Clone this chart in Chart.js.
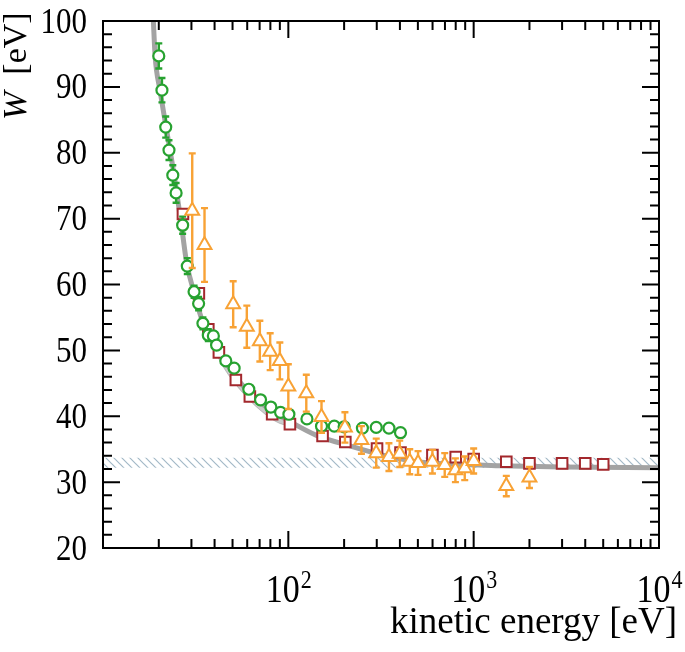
<!DOCTYPE html>
<html>
<head>
<meta charset="utf-8">
<script src="https://cdn.jsdelivr.net/npm/chart.js@4.4.0/dist/chart.umd.min.js"></script>
<style>
  body { margin: 0; background: #fff; }
  #wChart { display: block; }
</style>
</head>
<body>
<canvas id="wChart" width="685" height="652"></canvas>
<script>
// W value [eV] vs kinetic energy [eV]

// green circles
const greenE = [20, 20.8, 21.8, 22.7, 23.8, 24.8, 26.9, 28.5, 31, 32.8, 34.6, 37, 39.4, 41, 46, 51, 61.2, 70.8, 80.5, 90.8, 100.7, 126, 151, 177, 200, 251, 298, 349, 403];
const greenW = [94.7, 89.5, 83.9, 80.4, 76.6, 73.9, 69.0, 62.8, 58.9, 57.1, 54.1, 52.3, 52.2, 50.8, 48.4, 47.3, 44.1, 42.5, 41.4, 40.6, 40.3, 39.6, 38.5, 38.5, 38.4, 38.2, 38.3, 38.2, 37.5];
const greenErr = [1.9, 1.85, 1.6, 1.5, 1.5, 1.5, 1.3, 1.2, 0.9, 1.0, 0.9, 0.9, 0.6, 0, 0, 0, 0, 0, 0, 0, 0, 0, 0, 0, 0, 0, 0, 0, 0];

// dark red squares
const redE = [27, 32.9, 37, 42.2, 52.1, 62, 81.8, 102, 153, 203, 301, 403, 599, 800, 1000, 1500, 2000, 3000, 4000, 5000];
const redW = [70.7, 58.65, 53.2, 49.7, 45.5, 43.0, 40.3, 38.8, 37.0, 36.1, 35.1, 34.5, 34.1, 33.8, 33.5, 33.1, 32.85, 32.85, 32.85, 32.7];

// orange triangles
const orangeE = [30.3, 35.3, 50.4, 59.7, 70.2, 79.8, 90, 100, 125, 151, 202, 248, 298, 349, 399, 452, 501, 599, 698, 797, 895, 1000, 1500, 2000];
const orangeW = [71.2, 66.0, 57.0, 53.6, 51.4, 49.8, 48.4, 44.5, 43.5, 39.9, 38.3, 36.4, 34.4, 33.8, 34.3, 33.1, 32.9, 33.1, 32.6, 31.8, 32.1, 33.2, 29.4, 30.7];
const orangeErr = [8.7, 5.6, 3.5, 3.2, 3.1, 2.8, 2.8, 3.4, 2.8, 2.4, 2.3, 2.1, 2.2, 2.1, 2.0, 1.9, 1.8, 1.8, 1.8, 1.8, 1.8, 1.9, 1.55, 1.6];

// gray model curve
const curveE = [18.7, 19.1, 20.3, 21.9, 24.2, 26.5, 28.3, 30.7, 34.7, 41, 50.4, 62, 76, 102, 142, 215, 324, 491, 743, 1380, 3000, 10000];
const curveW = [100, 94.7, 89.5, 83.9, 76.6, 69, 63.2, 59.2, 54.1, 50.5, 46.5, 43.5, 41.4, 39.2, 37.1, 35.5, 34.1, 33.1, 32.75, 32.5, 32.3, 32.2];
// lower edge of the darker gray scatter under the curve
const shadeE = [35, 45, 55, 70, 90, 105];
const shadeW = [53.3, 47.3, 44.0, 41.0, 38.9, 38.6];

// hatched band (high-energy limit)
const bandE = [10, 10000];
const bandHi = [33.7, 33.7];
const bandLo = [32.2, 32.2];

// axes
const xMajorTicks = [10, 100, 1000, 10000];
const xTickExps = ['', '2', '3', '4'];
const yMajorTicks = [20, 30, 40, 50, 60, 70, 80, 90, 100];

const SERIF = '"Liberation Serif", "Times New Roman", serif';

function toPoints(xs, ys) {
    return xs.map((x, i) => ({ x: x, y: ys[i] }));
}

// diagonal hatching for the band
function hatchPattern() {
    const c = document.createElement('canvas');
    c.width = 8; c.height = 8;
    const g = c.getContext('2d');
    g.strokeStyle = '#a3b9c7';
    g.lineWidth = 1.2;
    g.beginPath();
    g.moveTo(-2, -2); g.lineTo(10, 10);
    g.moveTo(-10, -2); g.lineTo(2, 10);
    g.moveTo(6, -2); g.lineTo(18, 10);
    g.stroke();
    return g.createPattern(c, 'repeat');
}

// vertical error bars with caps, drawn just under each dataset's markers
const errorBars = {
    id: 'errorBars',
    beforeDatasetDraw(chart, args) {
        const ds = chart.data.datasets[args.index];
        if (!ds.errors) return;
        const ctx = chart.ctx;
        const xs = chart.scales.x, ys = chart.scales.y;
        ctx.save();
        ctx.strokeStyle = ds.borderColor;
        ctx.lineWidth = 2.4;
        ds.data.forEach((p, i) => {
            const e = ds.errors[i];
            if (!e) return;
            const px = xs.getPixelForValue(p.x);
            const top = ys.getPixelForValue(p.y + e);
            const bot = ys.getPixelForValue(p.y - e);
            ctx.beginPath();
            ctx.moveTo(px, top); ctx.lineTo(px, bot);
            ctx.moveTo(px - 3.5, top); ctx.lineTo(px + 3.5, top);
            ctx.moveTo(px - 3.5, bot); ctx.lineTo(px + 3.5, bot);
            ctx.stroke();
        });
        ctx.restore();
    }
};

function stretchText(ctx, txt, x, y, sy) {
    ctx.save();
    ctx.translate(x, y);
    ctx.scale(1, sy);
    ctx.fillText(txt, 0, 0);
    ctx.restore();
}

// frame, inward ticks on all four sides, tick labels and axis titles
const frameAxes = {
    id: 'frameAxes',
    afterDraw(chart) {
        const ctx = chart.ctx;
        const a = chart.chartArea;
        const xs = chart.scales.x, ys = chart.scales.y;
        const major = 17, minor = 9;
        ctx.save();
        ctx.strokeStyle = '#000';
        ctx.lineWidth = 2;
        ctx.strokeRect(a.left, a.top, a.right - a.left, a.bottom - a.top);

        ctx.beginPath();
        // x ticks (log decades)
        for (let d = 10; d < 10000; d *= 10) {
            for (let m = 1; m < 10; m++) {
                const v = d * m;
                const px = xs.getPixelForValue(v);
                const len = m === 1 ? major : minor;
                ctx.moveTo(px, a.bottom); ctx.lineTo(px, a.bottom - len);
                ctx.moveTo(px, a.top); ctx.lineTo(px, a.top + len);
            }
        }
        // y ticks every 2
        for (let v = 20; v <= 100; v += 2) {
            const py = ys.getPixelForValue(v);
            const len = v % 10 === 0 ? major : minor;
            ctx.moveTo(a.left, py); ctx.lineTo(a.left + len, py);
            ctx.moveTo(a.right, py); ctx.lineTo(a.right - len, py);
        }
        ctx.stroke();

        ctx.fillStyle = '#000';
        const sy = 1.15;
        // y labels
        ctx.font = '31px ' + SERIF;
        ctx.textAlign = 'right';
        ctx.textBaseline = 'alphabetic';
        yMajorTicks.forEach(v => {
            const py = ys.getPixelForValue(v);
            stretchText(ctx, String(v), a.left - 16, py + 11.5, sy);
        });

        // x labels 10^n
        xMajorTicks.forEach((v, i) => {
            if (!xTickExps[i]) return;
            const px = xs.getPixelForValue(v);
            ctx.font = '34px ' + SERIF;
            const w10 = ctx.measureText('10').width;
            ctx.font = '22px ' + SERIF;
            const we = ctx.measureText(xTickExps[i]).width;
            const x0 = px - (w10 + we) / 2;
            ctx.textAlign = 'left';
            ctx.font = '34px ' + SERIF;
            stretchText(ctx, '10', x0, 602, sy);
            ctx.font = '22px ' + SERIF;
            stretchText(ctx, xTickExps[i], x0 + w10 + 1, 588, sy);
        });

        // x title
        ctx.font = '37px ' + SERIF;
        ctx.textAlign = 'right';
        stretchText(ctx, 'kinetic energy [eV]', 677, 633, 1.0);

        // y title, rotated, italic W
        ctx.translate(26, 120);
        ctx.rotate(-Math.PI / 2);
        ctx.textAlign = 'left';
        ctx.font = 'italic 34px ' + SERIF;
        ctx.fillText('W', 0, 0);
        const ww = ctx.measureText('W  ').width;
        ctx.font = '34px ' + SERIF;
        ctx.fillText('[eV]', ww, 0);
        ctx.restore();
    }
};

function createChart() {
    const ctx = document.getElementById('wChart');
    const hatch = hatchPattern();
    new Chart(ctx, {
        type: 'scatter',
        data: {
            datasets: [
                {   // 0: band upper edge
                    data: toPoints(bandE, bandHi),
                    showLine: true, borderWidth: 0, pointRadius: 0,
                    borderColor: 'rgba(0,0,0,0)', fill: false, order: 10
                },
                {   // 1: band lower edge, hatched down to the upper one
                    data: toPoints(bandE, bandLo),
                    showLine: true, borderWidth: 0, pointRadius: 0,
                    borderColor: 'rgba(0,0,0,0)', backgroundColor: hatch,
                    fill: '-1', order: 9
                },
                {   // 2: model curve
                    data: toPoints(curveE, curveW),
                    showLine: true, borderColor: '#a3a3a3', borderWidth: 5,
                    pointRadius: 0, cubicInterpolationMode: 'monotone',
                    fill: false, order: 7
                },
                {   // 3: gray scatter under the curve
                    data: toPoints(shadeE, shadeW),
                    showLine: true, borderColor: 'rgba(150,150,150,0.5)', borderWidth: 1,
                    backgroundColor: 'rgba(140,140,140,0.45)',
                    pointRadius: 0, cubicInterpolationMode: 'monotone',
                    fill: 2, order: 8
                },
                {   // 4: squares
                    data: toPoints(redE, redW),
                    pointStyle: 'rect', pointRadius: 7.5, borderWidth: 2,
                    borderColor: '#a3282d', backgroundColor: '#fff', order: 3
                },
                {   // 5: circles
                    data: toPoints(greenE, greenW), errors: greenErr,
                    pointStyle: 'circle', pointRadius: 5.5, borderWidth: 2.2,
                    borderColor: '#27a230', backgroundColor: '#fff', order: 2
                },
                {   // 6: triangles
                    data: toPoints(orangeE, orangeW), errors: orangeErr,
                    pointStyle: 'triangle', pointRadius: 8, borderWidth: 2,
                    borderColor: '#f8a235', backgroundColor: '#fff', order: 1
                }
            ]
        },
        options: {
            responsive: false,
            animation: false,
            layout: { padding: { left: 103, top: 21, right: 26, bottom: 104 } },
            scales: {
                x: { type: 'logarithmic', min: 10, max: 10000, display: false },
                y: { type: 'linear', min: 20, max: 100, display: false }
            },
            plugins: {
                legend: { display: false },
                tooltip: { enabled: false }
            }
        },
        plugins: [errorBars, frameAxes]
    });
}

createChart();
</script>
</body>
</html>
